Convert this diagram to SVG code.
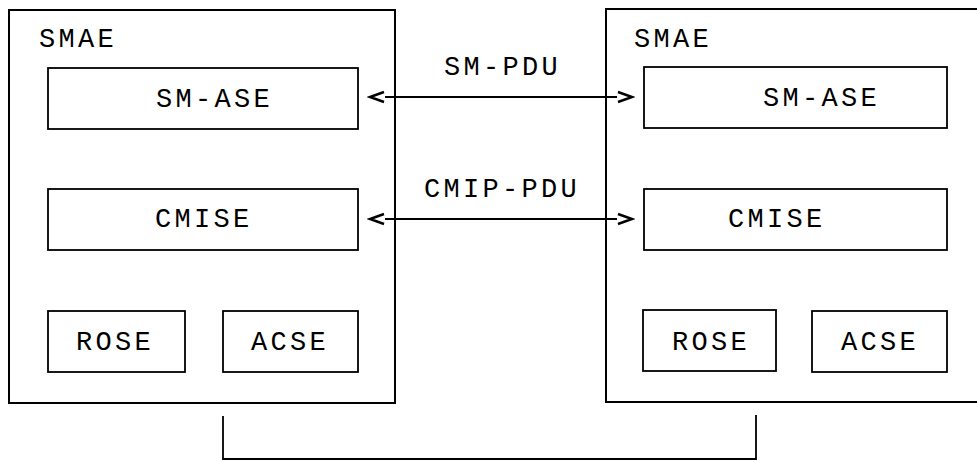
<svg xmlns="http://www.w3.org/2000/svg" width="977" height="461" viewBox="0 0 977 461">
<style>
.box{fill:none;stroke:#000;stroke-width:1.8}
.outer{fill:none;stroke:#000;stroke-width:2}
.lbl{font-family:"Liberation Mono","DejaVu Sans Mono",monospace;font-size:27px;letter-spacing:3.3px;fill:#000}
.conn{fill:none;stroke:#000;stroke-width:1.8}
</style>
<defs>
<marker id="chev" viewBox="0 -7 18 14" markerWidth="18" markerHeight="14" refX="0" refY="0" markerUnits="userSpaceOnUse" orient="auto-start-reverse">
<path d="M1,-5 L15,0 L1,5" fill="none" stroke="#000" stroke-width="2.4"/>
</marker>
</defs>
<rect width="977" height="461" fill="#fff"/>
<g id="smae-left">
<rect class="outer" x="9" y="10" width="386" height="393"/>
<text class="lbl" x="39" y="47">SMAE</text>
</g>
<g id="sm-ase-left">
<rect class="box" x="48" y="68" width="310" height="61"/>
<text class="lbl" x="156" y="107">SM-ASE</text>
</g>
<g id="cmise-left">
<rect class="box" x="48" y="189" width="310" height="61"/>
<text class="lbl" x="155" y="227">CMISE</text>
</g>
<g id="rose-left">
<rect class="box" x="48" y="311" width="137" height="61"/>
<text class="lbl" x="76" y="350">ROSE</text>
</g>
<g id="acse-left">
<rect class="box" x="223" y="311" width="135" height="61"/>
<text class="lbl" x="251" y="350">ACSE</text>
</g>
<g id="smae-right">
<rect class="outer" x="606" y="9" width="390" height="393"/>
<text class="lbl" x="634" y="47">SMAE</text>
</g>
<g id="sm-ase-right">
<rect class="box" x="644" y="67" width="303" height="61"/>
<text class="lbl" x="763" y="106">SM-ASE</text>
</g>
<g id="cmise-right">
<rect class="box" x="644" y="189" width="303" height="61"/>
<text class="lbl" x="728" y="227">CMISE</text>
</g>
<g id="rose-right">
<rect class="box" x="643" y="310" width="133" height="61"/>
<text class="lbl" x="672" y="350">ROSE</text>
</g>
<g id="acse-right">
<rect class="box" x="812" y="311" width="135" height="61"/>
<text class="lbl" x="841" y="350">ACSE</text>
</g>
<g id="connectors">
<line class="conn" x1="385" y1="97" x2="617" y2="97" marker-start="url(#chev)" marker-end="url(#chev)"/>
<text class="lbl" x="444" y="75">SM-PDU</text>
<line class="conn" x1="385" y1="219" x2="617" y2="219" marker-start="url(#chev)" marker-end="url(#chev)"/>
<text class="lbl" x="424" y="197">CMIP-PDU</text>
<polyline class="conn" points="223,416 223,459 756,459 756,415"/>
</g>
</svg>
